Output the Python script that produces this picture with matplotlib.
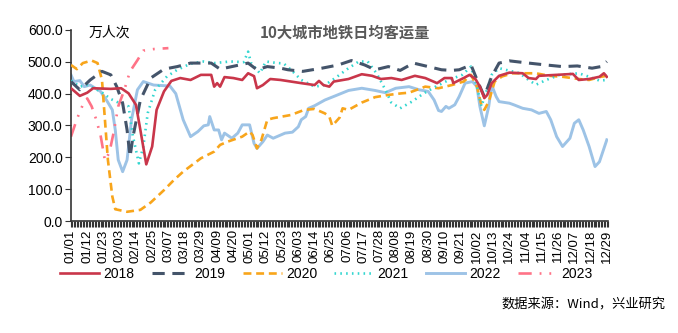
import matplotlib
matplotlib.use("Agg")
import matplotlib.pyplot as plt
from matplotlib.ticker import MultipleLocator, FixedLocator

plt.rcParams['font.family'] = ['Liberation Sans', 'Noto Sans CJK SC', 'DejaVu Sans']

# ---- data (day of year -> 万人次) ----
d2018 = [0, 6, 11, 15, 27, 34, 39, 44, 47, 51, 55, 58, 63, 68, 74, 81, 88, 95, 97, 99, 101, 104,
         110, 116, 120, 124, 126, 130, 135, 142, 149, 156, 165, 168, 171, 175, 178, 188, 197, 204,
         210, 217, 224, 233, 240, 248, 253, 258, 259, 266, 270, 274, 277, 280, 282, 285, 290, 297,
         306, 310, 315, 317, 329, 340, 344, 351, 358, 361, 363]
v2018 = [417, 393, 403, 417, 415, 417, 401, 365, 286, 178, 234, 349, 407, 440, 449, 443, 459, 459, 422, 433, 422, 452,
         449, 443, 464, 455, 417, 427, 446, 443, 438, 433, 427, 440, 427, 422, 438, 446, 461, 456,
         446, 449, 443, 456, 449, 433, 449, 449, 433, 449, 459, 446, 422, 386, 396, 433, 456, 466,
         464, 449, 446, 456, 459, 462, 443, 446, 453, 464, 453]

d2019 = [0, 6, 13, 21, 27, 31, 35, 38, 40, 42, 47, 54, 63, 72, 81, 95, 101, 113, 120, 126, 133, 142,
         147, 157, 170, 181, 190, 199, 206, 215, 223, 232, 242, 251, 258, 263, 271, 276, 280, 285,
         290, 297, 310, 322, 333, 343, 353, 359, 363]
v2019 = [438, 412, 443, 470, 459, 422, 370, 286, 202, 265, 380, 449, 477, 485, 496, 496, 477, 489, 496, 475, 485, 480,
         475, 470, 480, 490, 504, 490, 475, 485, 473, 496, 485, 475, 473, 475, 490, 433, 391, 454,
         496, 503, 496, 490, 485, 487, 480, 485, 501]

d2020 = [0, 4, 8, 14, 18, 21, 23, 25, 28, 30, 38, 47, 54, 63, 70, 76, 88, 97, 101, 106, 116, 121,
         123, 126, 129, 133, 137, 149, 158, 165, 172, 175, 177, 182, 184, 188, 197, 206, 215, 224,
         229, 240, 249, 258, 266, 271, 275, 278, 280, 283, 287, 292, 299, 315, 324, 333, 344, 351,
         359, 363]
v2020 = [490, 477, 496, 504, 496, 443, 318, 192, 77, 37, 29, 35, 58, 97, 130, 155, 197, 218, 239, 249, 265, 281,
         270, 228, 255, 318, 323, 333, 349, 352, 338, 328, 299, 325, 354, 349, 372, 389, 396, 401,
         403, 422, 417, 427, 438, 459, 422, 365, 349, 375, 438, 454, 464, 464, 456, 453, 446, 443,
         453, 456]

d2021 = [0, 6, 11, 20, 27, 33, 39, 42, 46, 49, 52, 57, 65, 72, 81, 90, 97, 108, 117, 120, 122, 128,
         132, 140, 144, 149, 156, 165, 172, 179, 188, 195, 201, 207, 213, 217, 223, 231, 239, 247,
         256, 265, 271, 275, 278, 281, 285, 290, 297, 304, 310, 315, 322, 331, 344, 351, 358, 363]
v2021 = [441, 422, 427, 407, 383, 370, 360, 265, 181, 234, 339, 412, 454, 475, 494, 501, 496, 501, 499, 532, 496, 464,
         501, 496, 495, 475, 443, 422, 427, 449, 480, 501, 501, 464, 412, 372, 354, 375, 401, 422,
         443, 459, 485, 422, 360, 401, 459, 480, 472, 464, 443, 428, 443, 459, 464, 453, 441, 443]

d2022 = [0, 2, 6, 9, 13, 20, 24, 28, 30, 32, 35, 38, 41, 45, 49, 56, 67, 71, 76, 81, 86, 90, 93,
         94, 97, 100, 102, 104, 109, 113, 116, 121, 124, 126, 130, 133, 137, 145, 150, 154, 156,
         159, 161, 165, 172, 179, 188, 197, 206, 213, 220, 229, 236, 242, 246, 249, 251, 254, 256,
         260, 263, 267, 272, 275, 277, 280, 283, 285, 288, 290, 297, 300, 306, 312, 317, 322, 325,
         329, 333, 338, 341, 344, 347, 351, 355, 358, 363]
v2022 = [459, 438, 441, 422, 427, 407, 380, 349, 286, 192, 155, 192, 318, 412, 438, 427, 424, 400, 318, 265, 281, 299, 302,
         328, 286, 286, 255, 276, 260, 276, 302, 302, 244, 228, 249, 270, 260, 276, 279, 296, 318,
         328, 354, 362, 380, 393, 410, 417, 410, 403, 417, 422, 412, 407, 380, 347, 344, 360, 354,
         365, 391, 433, 438, 422, 360, 299, 360, 427, 391, 375, 370, 365, 354, 349, 338, 344, 318,
         265, 234, 260, 307, 318, 286, 234, 171, 186, 255]

d2023 = [0, 4, 8, 11, 14, 17, 20, 23, 26, 29, 32, 36, 40, 45, 49, 56, 66]
v2023 = [265, 320, 365, 385, 360, 320, 270, 190, 215, 280, 360, 410, 470, 505, 535, 540, 543]

tick_labels = ["01/01", "01/12", "01/23", "02/03", "02/14", "02/25", "03/07", "03/18", "03/29",
               "04/09", "04/20", "05/01", "05/12", "05/23", "06/03", "06/14", "06/25", "07/06",
               "07/17", "07/28", "08/08", "08/19", "08/30", "09/10", "09/21", "10/02", "10/13",
               "10/24", "11/04", "11/15", "11/26", "12/07", "12/18", "12/29"]
tick_pos = [11 * i for i in range(len(tick_labels))]

fig = plt.figure(figsize=(6.78, 3.33), dpi=100)
ax = fig.add_axes([0.1047, 0.3363, 0.7925, 0.5737])

lw = 1.9
ax.plot(d2018, v2018, color="#C9364A", lw=lw, label="2018", zorder=5)
ax.plot(d2019, v2019, color="#44546A", lw=2.2, ls=(0, (4, 2.5)), label="2019", zorder=4)
ax.plot(d2020, v2020, color="#F8A51B", lw=lw, ls=(0, (3, 1.8)), label="2020", zorder=3)
ax.plot(d2021, v2021, color="#33D6D0", lw=lw, ls=(0, (0.6, 1.6)), label="2021", zorder=3)
ax.plot(d2022, v2022, color="#9DC3E6", lw=2.1, label="2022", zorder=2)
ax.plot(d2023, v2023, color="#FF7387", lw=lw, ls=(0, (5, 3, 0.7, 3, 0.7, 3)), label="2023", zorder=2)

ax.set_xlim(0, 364)
ax.set_ylim(0, 600)
ax.set_yticks([0, 100, 200, 300, 400, 500, 600])
ax.set_yticklabels(["0.0", "100.0", "200.0", "300.0", "400.0", "500.0", "600.0"], fontsize=10)
ax.xaxis.set_major_locator(FixedLocator(tick_pos))
ax.set_xticklabels(tick_labels, rotation=90, fontsize=9.5)
ax.xaxis.set_minor_locator(MultipleLocator(1))
ax.tick_params(axis='x', which='both', direction='out', length=4, width=0.8, color="#333333", pad=2)
ax.tick_params(axis='y', direction='out', length=4, width=0.8, color="#333333", pad=2)
for s in ['top', 'right']:
    ax.spines[s].set_visible(False)
for s in ['left', 'bottom']:
    ax.spines[s].set_color("#333333")
    ax.spines[s].set_linewidth(1.2)

ax.text(0.51, 0.985, "10大城市地铁日均客运量", transform=ax.transAxes, ha='center', va='center',
        fontsize=11, fontweight='bold', color="#595959", family=['Noto Sans CJK SC', 'DejaVu Sans'])
ax.text(0.033, 0.985, "万人次", transform=ax.transAxes, ha='left', va='center',
        fontsize=10, color="#000000", family=['Noto Sans CJK SC', 'DejaVu Sans'])

fig.legend(loc='center', bbox_to_anchor=(0.481, 0.177), ncol=6, frameon=False, fontsize=10,
           handlelength=2.8, columnspacing=1.25, handletextpad=0.3)

fig.text(0.981, 0.083, "数据来源：Wind，兴业研究", ha='right', va='center', fontsize=9.5,
         family=['Noto Sans CJK SC', 'DejaVu Sans'])

fig.savefig("out.png", dpi=100)
